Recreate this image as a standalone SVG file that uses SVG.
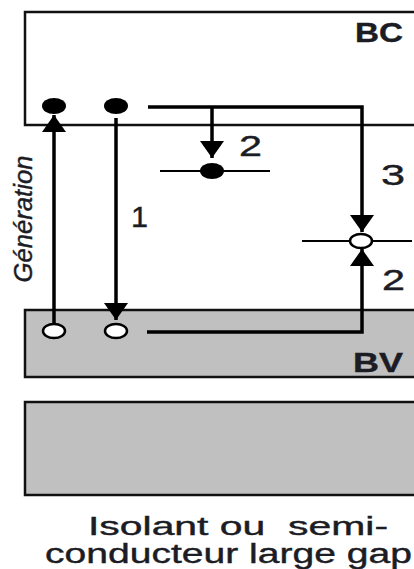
<svg xmlns="http://www.w3.org/2000/svg" width="414" height="569" viewBox="0 0 414 569">
<style>
.box{stroke:#111;stroke-width:2.5}
.ln{stroke:#000;stroke-width:3.5;fill:none}
.trap{stroke:#000;stroke-width:2;fill:none}
.lbl{font-family:"Liberation Sans",Arial,sans-serif;fill:#1c1c24;stroke:#1c1c24;stroke-width:0.4}
.b{font-weight:bold}
</style>
<defs>
<marker id="ah" viewBox="0 0 10 10" refX="10" refY="5" markerUnits="userSpaceOnUse" markerWidth="17" markerHeight="24" orient="auto" preserveAspectRatio="none">
<path d="M0,0 L10,5 L0,10 z" fill="#000"/>
</marker>
</defs>
<rect width="414" height="569" fill="#fff"/>
<g id="BC">
<rect class="box" x="25" y="12" width="400" height="113" fill="#fff"/>
<text class="lbl b" x="355" y="42" font-size="27" textLength="48" lengthAdjust="spacingAndGlyphs">BC</text>
</g>
<g id="BV">
<rect class="box" x="25" y="310" width="400" height="67" fill="#c0c0c0"/>
<text class="lbl b" x="353" y="372" font-size="27" textLength="50" lengthAdjust="spacingAndGlyphs">BV</text>
</g>
<g id="band3">
<rect class="box" x="25" y="402" width="400" height="93" fill="#c0c0c0"/>
</g>
<g id="connectors">
<line class="ln" x1="54" y1="323" x2="54" y2="115" marker-end="url(#ah)"/>
<line class="ln" x1="116" y1="118" x2="116" y2="320" marker-end="url(#ah)"/>
<polyline class="ln" points="148,107 362,107 362,232" marker-end="url(#ah)"/>
<line class="ln" x1="212" y1="107" x2="212" y2="158" marker-end="url(#ah)"/>
<polyline class="ln" points="147,332 362,332 362,249" marker-end="url(#ah)"/>
</g>
<g id="traps">
<line class="trap" x1="160" y1="171" x2="270" y2="171"/>
<line class="trap" x1="302" y1="241" x2="412" y2="241"/>
</g>
<g id="electrons">
<ellipse cx="54" cy="106" rx="12" ry="8" fill="#000"/>
<ellipse cx="116" cy="106" rx="12" ry="8" fill="#000"/>
<ellipse cx="212" cy="171" rx="12" ry="8" fill="#000"/>
</g>
<g id="holes">
<ellipse cx="54" cy="331" rx="11" ry="7" fill="#fff" stroke="#000" stroke-width="2.5"/>
<ellipse cx="116" cy="331" rx="11" ry="7" fill="#fff" stroke="#000" stroke-width="2.5"/>
<ellipse cx="361" cy="241" rx="11" ry="7" fill="#fff" stroke="#000" stroke-width="2.5"/>
</g>
<g id="labels">
<text class="lbl" x="239" y="156" font-size="29" textLength="23" lengthAdjust="spacingAndGlyphs">2</text>
<text class="lbl" x="381" y="185" font-size="29" textLength="24" lengthAdjust="spacingAndGlyphs">3</text>
<text class="lbl" x="131" y="227" font-size="30" textLength="17" lengthAdjust="spacingAndGlyphs">1</text>
<text class="lbl" x="382" y="290" font-size="29" textLength="23" lengthAdjust="spacingAndGlyphs">2</text>
<text class="lbl" transform="translate(32,219) rotate(-90)" text-anchor="middle" font-size="25" font-style="italic" fill="#2a3550" stroke="#2a3550" stroke-width="0.2" textLength="127" lengthAdjust="spacingAndGlyphs">Génération</text>
<text class="lbl" x="88" y="535" font-size="26" textLength="300" lengthAdjust="spacingAndGlyphs" xml:space="preserve">Isolant ou  semi-</text>
<text class="lbl" x="45" y="563" font-size="27" textLength="367" lengthAdjust="spacingAndGlyphs">conducteur large gap</text>
</g>
</svg>
